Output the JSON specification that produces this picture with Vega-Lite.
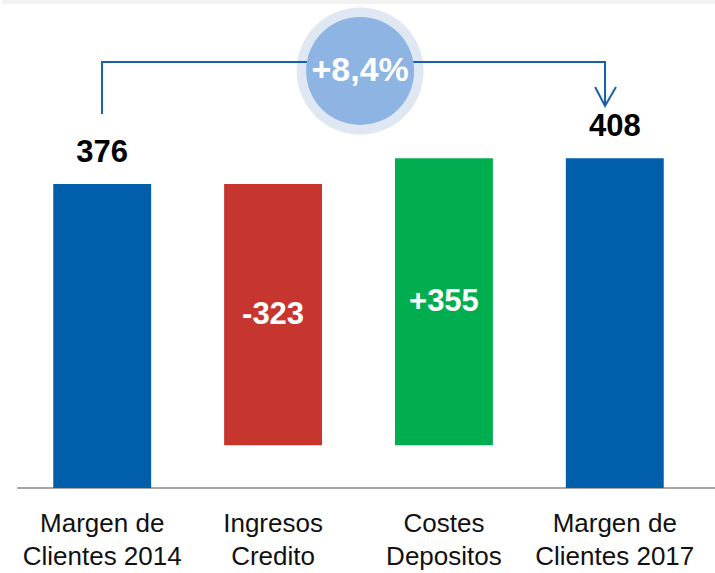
{
  "$schema": "https://vega.github.io/schema/vega-lite/v6.json",
  "width": 713,
  "height": 488,
  "autosize": {"type": "none"},
  "padding": {"left": 2, "top": 0, "right": 0, "bottom": 85},
  "background": "white",
  "config": {"view": {"stroke": null}, "font": "Liberation Sans"},
  "datasets": {
    "steps": [
      {"stage": "Margen de|Clientes 2014", "start": 0, "end": 376, "label": "376", "kind": "total"},
      {"stage": "Ingresos|Credito", "start": 376, "end": 53, "label": "-323", "kind": "neg"},
      {"stage": "Costes|Depositos", "start": 53, "end": 408, "label": "+355", "kind": "pos"},
      {"stage": "Margen de|Clientes 2017", "start": 0, "end": 408, "label": "408", "kind": "total"}
    ],
    "connector": [
      {"path": "bracket", "step": 1, "pos": 0, "value": 462.6},
      {"path": "bracket", "step": 2, "pos": 0, "value": 526.9},
      {"path": "bracket", "step": 3, "pos": 2.941, "value": 526.9},
      {"path": "bracket", "step": 4, "pos": 2.941, "value": 472.5},
      {"path": "head", "step": 1, "pos": 2.883, "value": 496.0},
      {"path": "head", "step": 2, "pos": 2.941, "value": 472.5},
      {"path": "head", "step": 3, "pos": 3.005, "value": 496.0}
    ],
    "badge": [
      {"pos": 1.509, "value": 515.8, "text": "+8,4%"}
    ]
  },
  "resolve": {"scale": {"x": "independent"}},
  "layer": [
    {
      "layer": [
        {
          "data": {"values": [{}]},
          "mark": {"type": "rect", "color": "#f2f2f2", "clip": true},
          "encoding": {
            "x": {"datum": -0.7, "type": "quantitative", "scale": {"domain": [-0.585, 3.584], "nice": false, "zero": false}, "axis": null},
            "x2": {"datum": 3.7},
            "y": {"datum": 598.7, "type": "quantitative", "scale": {"domain": [0, 603.6], "nice": false}, "axis": null},
            "y2": {"datum": 603.6}
          }
        },
        {
          "data": {"values": [{}]},
          "mark": {"type": "rule", "color": "#a6a6a6", "strokeWidth": 2},
          "encoding": {
            "x": {"datum": -0.497, "type": "quantitative", "scale": {"domain": [-0.585, 3.584], "nice": false, "zero": false}, "axis": null},
            "x2": {"datum": 3.584},
            "y": {"datum": 0, "type": "quantitative", "scale": {"domain": [0, 603.6], "nice": false}, "axis": null}
          }
        }
      ]
    },
    {
      "data": {"name": "steps"},
      "layer": [
        {
          "mark": {"type": "bar"},
          "encoding": {
            "x": {
              "field": "stage", "type": "nominal", "sort": null,
              "scale": {"paddingInner": 0.427, "paddingOuter": 0.3},
              "axis": {
                "title": null, "domain": false, "ticks": false, "tickSize": 0,
                "labelAngle": 0, "labelPadding": 22, "labelFontSize": 26,
                "labelColor": "#111111", "labelLineHeight": 33,
                "labelFont": "Liberation Sans",
                "labelExpr": "split(datum.label, '|')"
              }
            },
            "y": {"field": "start", "type": "quantitative", "scale": {"domain": [0, 603.6], "nice": false}, "axis": null},
            "y2": {"field": "end"},
            "color": {
              "field": "kind", "type": "nominal", "legend": null,
              "scale": {"domain": ["total", "neg", "pos"], "range": ["#005eab", "#c6362f", "#00ae50"]}
            }
          }
        },
        {
          "transform": [{"filter": "datum.kind == 'total'"}],
          "mark": {"type": "text", "baseline": "bottom", "dy": -15, "fontSize": 31, "fontWeight": "bold", "color": "#000000"},
          "encoding": {
            "x": {"field": "stage", "type": "nominal", "sort": null, "scale": {"paddingInner": 0.427, "paddingOuter": 0.3}},
            "y": {"field": "end", "type": "quantitative", "scale": {"domain": [0, 603.6], "nice": false}},
            "text": {"field": "label"}
          }
        },
        {
          "transform": [
            {"filter": "datum.kind != 'total'"},
            {"fold": ["start", "end"], "as": ["edge", "level"]}
          ],
          "mark": {"type": "text", "baseline": "middle", "fontSize": 31, "fontWeight": "bold", "color": "#ffffff"},
          "encoding": {
            "x": {"field": "stage", "type": "nominal", "sort": null, "scale": {"paddingInner": 0.427, "paddingOuter": 0.3}},
            "y": {"aggregate": "mean", "field": "level", "type": "quantitative", "scale": {"domain": [0, 603.6], "nice": false}},
            "text": {"field": "label"}
          }
        }
      ]
    },
    {
      "layer": [
        {
          "data": {"name": "badge"},
          "mark": {"type": "point", "shape": "circle", "filled": true, "size": 16129, "color": "#dfe7f3", "opacity": 1},
          "encoding": {
            "x": {"field": "pos", "type": "quantitative", "scale": {"domain": [-0.585, 3.584], "nice": false, "zero": false}, "axis": null},
            "y": {"field": "value", "type": "quantitative", "scale": {"domain": [0, 603.6], "nice": false}, "axis": null}
          }
        },
        {
          "data": {"name": "connector"},
          "mark": {"type": "line", "color": "#1560a8", "strokeWidth": 2, "strokeJoin": "miter", "strokeCap": "butt"},
          "encoding": {
            "x": {"field": "pos", "type": "quantitative"},
            "y": {"field": "value", "type": "quantitative"},
            "detail": {"field": "path"},
            "order": {"field": "step"}
          }
        },
        {
          "data": {"name": "badge"},
          "mark": {"type": "point", "shape": "circle", "filled": true, "size": 11664, "color": "#8db4e2", "opacity": 1},
          "encoding": {
            "x": {"field": "pos", "type": "quantitative"},
            "y": {"field": "value", "type": "quantitative"}
          }
        },
        {
          "data": {"name": "badge"},
          "mark": {"type": "text", "baseline": "middle", "fontSize": 34, "fontWeight": "bold", "color": "#ffffff"},
          "encoding": {
            "x": {"field": "pos", "type": "quantitative"},
            "y": {"field": "value", "type": "quantitative"},
            "text": {"field": "text"}
          }
        }
      ]
    }
  ]
}
